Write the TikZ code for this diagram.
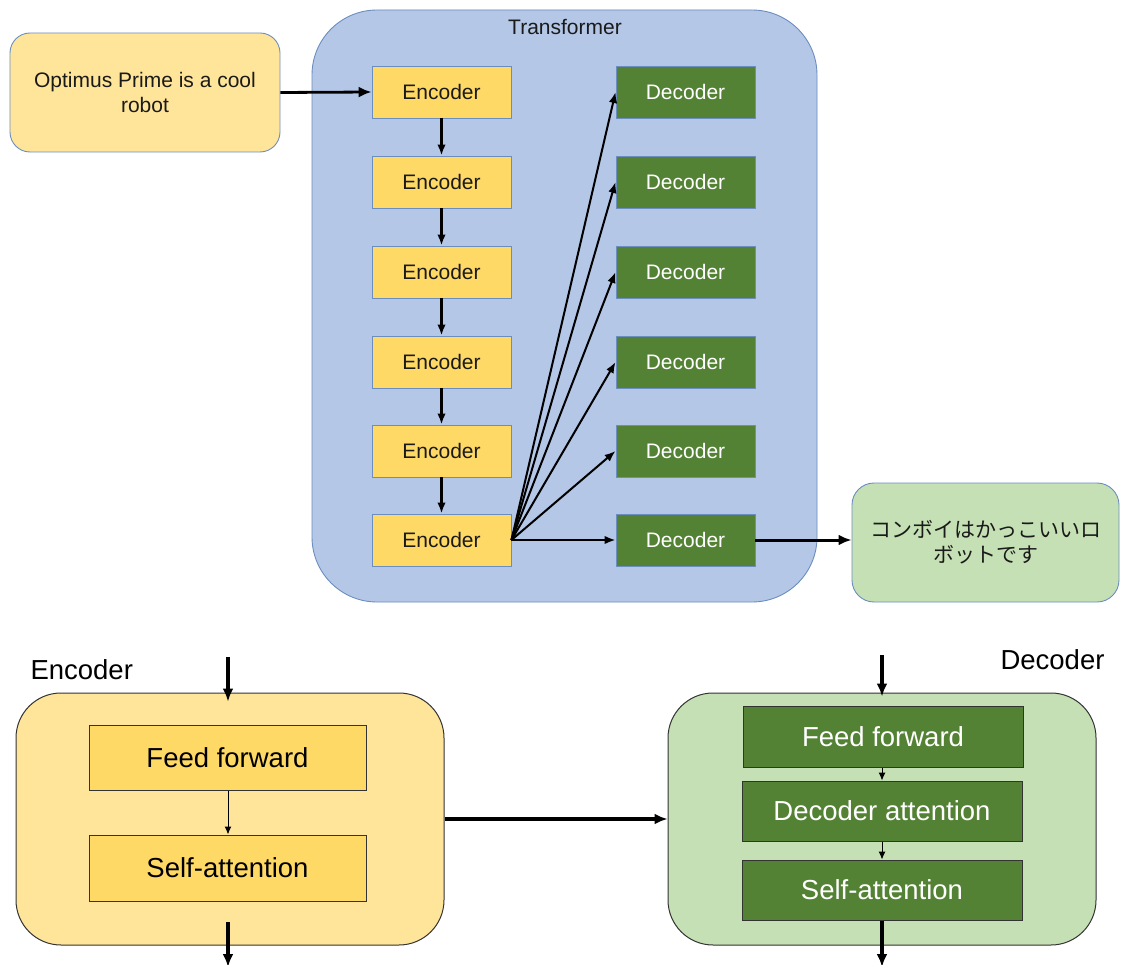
\documentclass[tikz,border=0pt]{standalone}
\usepackage{fontspec}
\setmainfont{Liberation Sans}
\newfontfamily\jpfont{Noto Sans CJK JP}
\usetikzlibrary{arrows.meta}

\definecolor{bordblue}{HTML}{6C8EBF}
\definecolor{paleyellow}{HTML}{FFE599}
\definecolor{encyellow}{HTML}{FFD966}
\definecolor{decgreen}{HTML}{548235}
\definecolor{palegreen}{HTML}{C5E0B4}
\definecolor{paleblue}{HTML}{B4C7E7}
\definecolor{darkline}{HTML}{333333}
\definecolor{inktext}{HTML}{1A1A1A}

\begin{document}
\begin{tikzpicture}[x=1pt,y=-1pt,
  box/.style={draw=bordblue, line width=0.9pt, inner sep=0pt, align=center,
    text=inktext, font=\fontsize{21}{24.5}\selectfont},
  encblock/.style={box, fill=encyellow, minimum width=139pt, minimum height=52pt},
  decblock/.style={box, fill=decgreen, text=white, minimum width=139pt, minimum height=52pt},
  bigbox/.style={draw=darkline, line width=1pt, rounded corners=45pt,
    minimum width=428pt, minimum height=252pt, inner sep=0pt},
  layer/.style={draw=darkline, line width=1pt, inner sep=0pt,
    font=\fontsize{27.5}{30}\selectfont},
  flow/.style={-{Latex[length=11pt,width=8.5pt]}, line width=2pt, black},
  thickflow/.style={-{Latex[length=13pt,width=11pt]}, line width=3.4pt, black},
  thinflow/.style={-{Latex[length=8pt,width=7pt]}, line width=1pt, black},
]
\fill[white] (0,0) rectangle (1121,965);
\useasboundingbox (0,0) rectangle (1121,965);

% ---- Transformer overview ----
\node[box, fill=paleblue, rounded corners=65pt, minimum width=505pt,
      minimum height=592pt] (tf) at (564.5,306) {};
\node[font=\fontsize{21}{24}\selectfont, text=inktext] (tftitle) at (565,27) {Transformer};

\node[box, fill=paleyellow, rounded corners=20pt, minimum width=270pt,
      minimum height=119pt] (input) at (145,92.5) {Optimus Prime is a cool\\robot};

\foreach \i/\y in {1/92,2/182,3/272,4/362,5/451,6/540}{
  \node[encblock] (enc\i) at (441.5,\y) {Encoder};
  \node[decblock] (dec\i) at (685.5,\y) {Decoder};
}

\node[box, fill=palegreen, rounded corners=22pt, minimum width=267pt,
      minimum height=119pt, font=\jpfont\fontsize{21}{25}\selectfont]
      (output) at (985.5,542.5) {コンボイはかっこいいロ\\ボットです};

\draw[thickflow, line width=2.8pt] (input.east) -- (enc1.west);
\foreach \a/\b in {1/2,2/3,3/4,4/5,5/6}{
  \draw[flow, line width=2.6pt] (enc\a.south) -- (enc\b.north);
}
\foreach \j in {1,...,6}{
  \draw[flow] (enc6.east) -- (dec\j.west);
}
\draw[thickflow, line width=3pt] (dec6.east) -- (dec6.east -| output.west);

% ---- Encoder detail ----
\node[font=\fontsize{27.5}{30}\selectfont, anchor=west] (enclabel) at (27,670) {Encoder};
\node[bigbox, fill=paleyellow] (encbig) at (230,819) {};
\node[layer, fill=encyellow, minimum width=277pt, minimum height=65pt]
     (eff) at (227.5,757.5) {Feed forward};
\node[layer, fill=encyellow, minimum width=277pt, minimum height=66pt]
     (esa) at (227.5,868) {Self-attention};
\coordinate (encin) at (228,657);
\coordinate (encoutstart) at (228,922);
\coordinate (encout) at (228,967);
\draw[thickflow, shorten >=-9pt] (encin) -- (encin |- encbig.north);
\draw[thinflow] (eff.south -| encin) -- (esa.north -| encin);
\draw[thickflow] (encoutstart) -- (encout);

% ---- Decoder detail ----
\node[font=\fontsize{27.5}{30}\selectfont, anchor=east] (declabel) at (1108,660) {Decoder};
\node[bigbox, fill=palegreen] (decbig) at (882,819) {};
\node[layer, fill=decgreen, text=white, minimum width=280pt, minimum height=61pt]
     (dff) at (883,736.5) {Feed forward};
\node[layer, fill=decgreen, text=white, minimum width=280pt, minimum height=60pt]
     (dda) at (882,811) {Decoder attention};
\node[layer, fill=decgreen, text=white, minimum width=280pt, minimum height=60pt]
     (dsa) at (882,890) {Self-attention};
\coordinate (decin) at (882,655);
\coordinate (decout) at (882,967);
\draw[thickflow, shorten >=-4pt] (decin) -- (decin |- decbig.north);
\draw[thinflow] (dff.south -| dda.north) -- (dda.north);
\draw[thinflow] (dda.south) -- (dsa.north);
\draw[thickflow] (dsa.south) -- (decout);

% encoder output feeds the decoder
\draw[thickflow] (encbig.east) -- (decbig.west);
\end{tikzpicture}
\end{document}
